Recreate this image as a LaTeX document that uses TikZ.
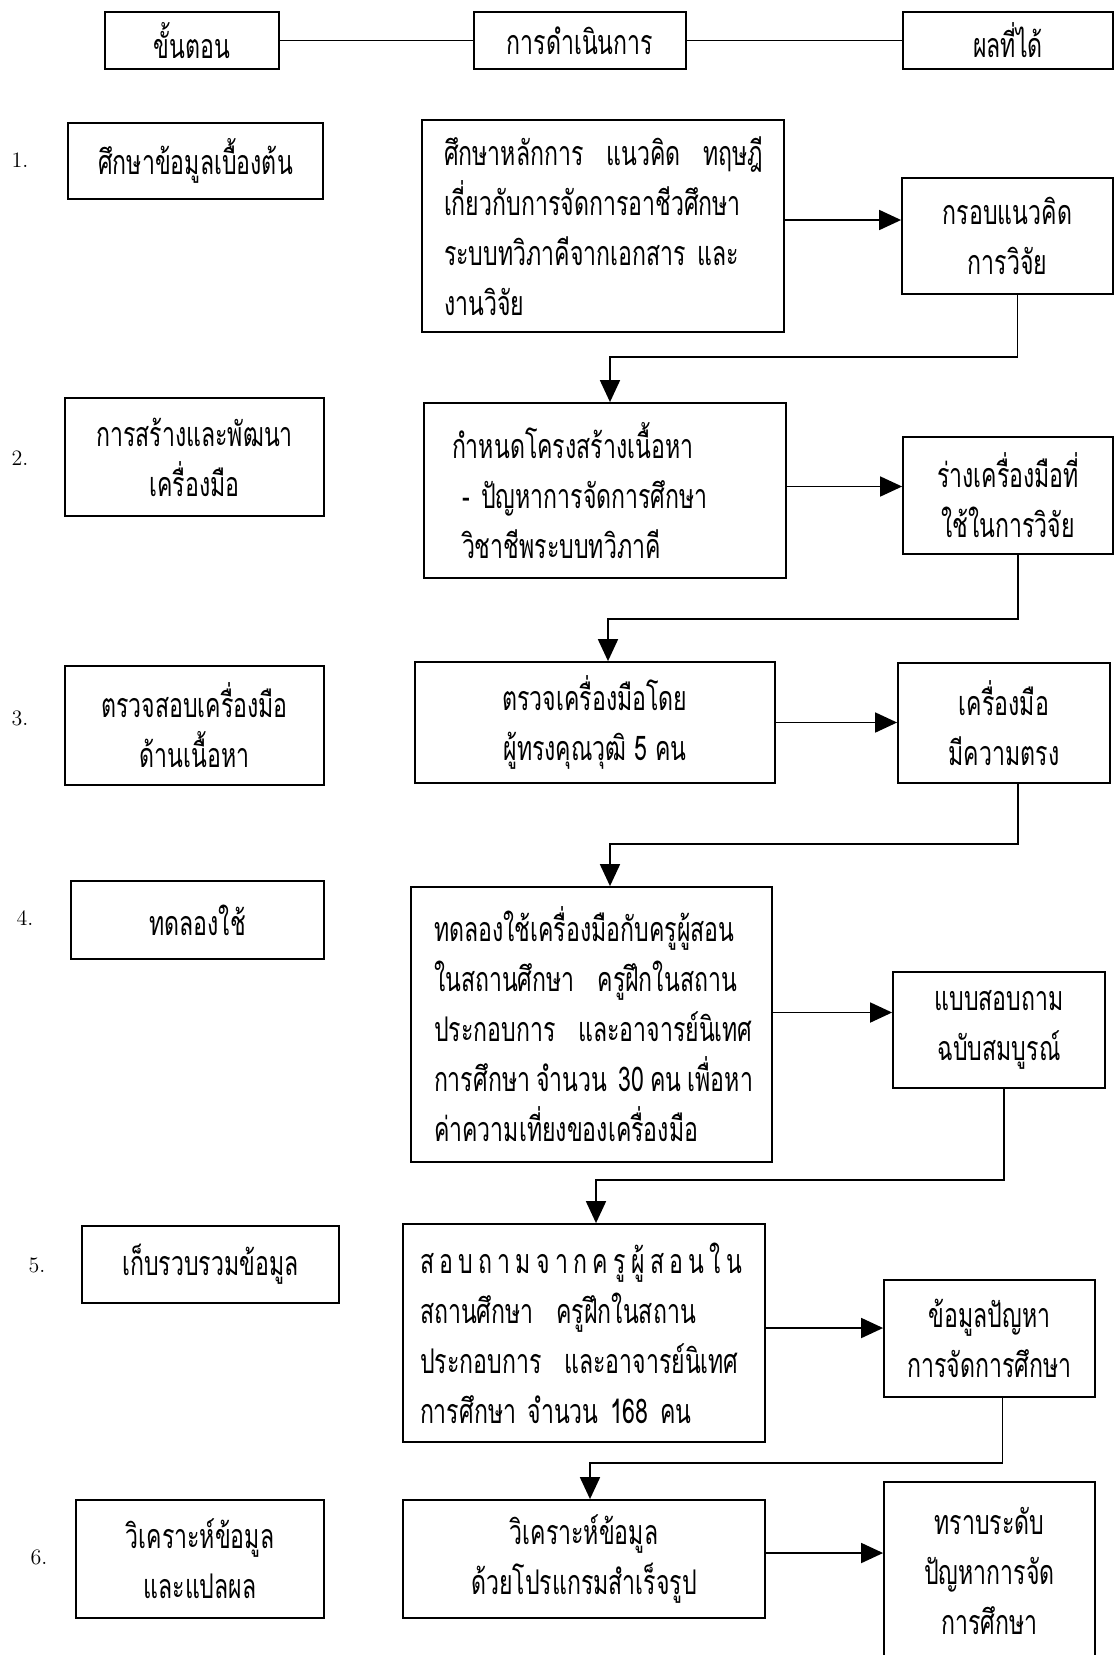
\documentclass[tikz,border=0pt]{standalone}
\usepackage{fontspec}
\newfontfamily\thaifont[Script=Thai,FakeStretch=0.68]{Loma}
\usetikzlibrary{arrows.meta}

\begin{document}
\begin{tikzpicture}[x=0.5pt,y=0.5pt,yscale=-1,xscale=1,
  box/.style={draw, line width=0.9pt, inner sep=0pt, align=center, font=\thaifont\fontsize{17}{25}\selectfont},
  num/.style={font=\fontsize{11}{13}\selectfont},
  link/.style={line width=0.9pt},
  arr/.style={line width=0.9pt, -{Triangle[length=11pt,width=10pt]}}]
\clip (0,0) rectangle (1115,1655);
\useasboundingbox (0,0) rectangle (1115,1655);

%Shape: Rectangle (head row)
\draw (192,40.5) node [box, minimum width=87pt, minimum height=28.5pt] (h1) {ขั้นตอน};
\draw (580,40.5) node [box, minimum width=106pt, minimum height=28.5pt] (h2) {การดำเนินการ};
\draw (1008,40.5) node [box, minimum width=105pt, minimum height=28.5pt] (h3) {ผลที่ได้};
%Straight Lines
\draw [link] (h1.east) -- (h2.west);
\draw [link] (h2.east) -- (h3.west);

% Text Node
\draw (20,160) node [num] (n1) {1.};
\draw (20,458) node [num] (n2) {2.};
\draw (20,718) node [num] (n3) {3.};
\draw (25,918) node [num] (n4) {4.};
\draw (37,1265) node [num] (n5) {5.};
\draw (39,1557) node [num] (n6) {6.};

%Shape: Rectangle (step 1)
\draw (195.5,161) node [box, minimum width=127.5pt, minimum height=38pt] (s1) {ศึกษาข้อมูลเบื้องต้น};
\draw (603,226) node [box, align=left, inner xsep=11pt, text width=159pt, minimum height=106pt] (a1) {\mbox{ศึกษาหลักการ\ \ แนวคิด\ \ ทฤษฎี}\\\mbox{เกี่ยวกับการจัดการอาชีวศึกษา}\\\mbox{ระบบทวิภาคีจากเอกสาร และ}\\งานวิจัย};
\draw (1007.5,236) node [box, minimum width=105.5pt, minimum height=58pt] (r1) {กรอบแนวคิด\\การวิจัย};

%Shape: Rectangle (step 2)
\draw (194.5,457) node [box, minimum width=129.5pt, minimum height=59pt] (s2) {การสร้างและพัฒนา\\เครื่องมือ};
\draw (605,490.5) node [box, align=left, inner xsep=14pt, text width=153pt, minimum height=87.5pt] (a2) {\mbox{กำหนดโครงสร้างเนื้อหา}\\\mbox{\hspace*{5pt}- ปัญหาการจัดการศึกษา}\\\mbox{\hspace*{5pt}วิชาชีพระบบทวิภาคี}};
\draw (1008,495.5) node [box, minimum width=105pt, minimum height=58.5pt] (r2) {ร่างเครื่องมือที่\\ใช้ในการวิจัย};

%Shape: Rectangle (step 3)
\draw (194.5,725.5) node [box, minimum width=129.5pt, minimum height=59.5pt] (s3) {ตรวจสอบเครื่องมือ\\ด้านเนื้อหา};
\draw (595,722.5) node [box, minimum width=180pt, minimum height=60.5pt] (a3) {ตรวจเครื่องมือโดย\\ผู้ทรงคุณวุฒิ 5 คน};
\draw (1004,723) node [box, minimum width=106pt, minimum height=60pt] (r3) {เครื่องมือ\\มีความตรง};

%Shape: Rectangle (step 4)
\draw (197.5,920) node [box, minimum width=126.5pt, minimum height=39pt] (s4) {ทดลองใช้};
\draw (591.5,1024.5) node [box, align=left, inner xsep=11.5pt, text width=157.5pt, minimum height=137.5pt] (a4) {\mbox{ทดลองใช้เครื่องมือกับครูผู้สอน}\\\mbox{ในสถานศึกษา\ \ ครูฝึกในสถาน}\\\mbox{ประกอบการ\ \ และอาจารย์นิเทศ}\\\mbox{การศึกษา\hspace{3pt}จำนวน 30\hspace{3pt}คน\hspace{3pt}เพื่อหา}\\\mbox{ค่าความเที่ยงของเครื่องมือ}};
\draw (999,1030) node [box, minimum width=106pt, minimum height=58pt] (r4) {แบบสอบถาม\\ฉบับสมบูรณ์};

%Shape: Rectangle (step 5)
\draw (210.5,1264.5) node [box, minimum width=128.5pt, minimum height=38.5pt] (s5) {เก็บรวบรวมข้อมูล};
\draw (584,1333) node [box, align=left, inner xsep=8.5pt, text width=164pt, minimum height=109pt] (a5) {\makebox[161pt][l]{ส\hfill อ\hfill บ\hfill ถ\hfill า\hfill ม\hfill จ\hfill า\hfill ก\hfill ค\hfill รู\hfill ผู้\hfill ส\hfill อ\hfill น\hfill ใ\hfill น}\\\mbox{สถานศึกษา\ \ ครูฝึกในสถาน}\\\mbox{ประกอบการ\ \ และอาจารย์นิเทศ}\\\mbox{การศึกษา จำนวน 168 คน}};
\draw (989.5,1338.5) node [box, minimum width=105.5pt, minimum height=58.5pt] (r5) {ข้อมูลปัญหา\\การจัดการศึกษา};

%Shape: Rectangle (step 6)
\draw (200,1559) node [box, minimum width=124pt, minimum height=59pt] (s6) {วิเคราะห์ข้อมูล\\และแปลผล};
\draw (584,1559) node [box, minimum width=181pt, minimum height=59pt] (a6) {วิเคราะห์ข้อมูล\\ด้วยโปรแกรมสำเร็จรูป};
\draw (989.5,1571) node [box, minimum width=105.5pt, minimum height=89pt] (r6) {ทราบระดับ\\ปัญหาการจัด\\การศึกษา};

%Straight Lines (to results)
\draw [arr] ([yshift=-3pt]a1.east) -- ([yshift=-3pt]a1.east -| r1.west);
\draw [arr] ([yshift=-2pt]a2.east) -- ([yshift=-2pt]a2.east -| r2.west);
\draw [arr] (a3.east) -- (a3.east -| r3.west);
\draw [arr] ([yshift=-6pt]a4.east) -- ([yshift=-6pt]a4.east -| r4.west);
\draw [arr] ([yshift=-2.5pt]a5.east) -- ([yshift=-2.5pt]a5.east -| r5.west);
\draw [arr] ([yshift=-3pt]a6.east) -- ([yshift=-3pt]a6.east -| r6.west);

%Straight Lines (back to next step)
\coordinate (k1) at (610,357);
\coordinate (k2) at (608,619);
\coordinate (k3) at (610,844);
\coordinate (k4) at (596,1180);
\coordinate (k5) at (590,1463);
\draw [arr] ([xshift=5pt]r1.south) |- (k1) -- (k1 |- a2.north);
\draw [arr] ([xshift=5pt]r2.south) |- (k2) -- (k2 |- a3.north);
\draw [arr] ([xshift=7pt]r3.south) |- (k3) -- (k3 |- a4.north);
\draw [arr] ([xshift=2.5pt]r4.south) |- (k4) -- (k4 |- a5.north);
\draw [arr] ([xshift=6.5pt]r5.south) |- (k5) -- (k5 |- a6.north);

\end{tikzpicture}
\end{document}
